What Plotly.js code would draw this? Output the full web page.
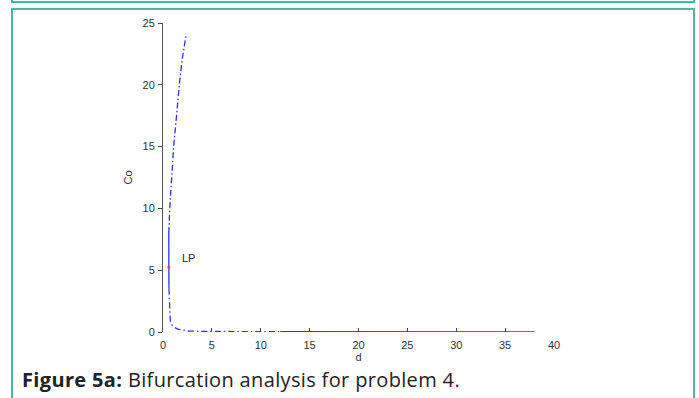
<!DOCTYPE html>
<html>
<head>
<meta charset="utf-8">
<script src="https://cdn.plot.ly/plotly-3.0.1.min.js"></script>
<style>
  html, body { margin: 0; padding: 0; background: #fff; }
  #wrap { position: relative; width: 699px; height: 398px; overflow: hidden; }
  #plot { position: absolute; left: 0; top: 0; width: 699px; height: 398px; }
  .bx { position: absolute; border: 2px solid #45bb9f; }
  #caption { position: absolute; left: 22px; top: 366px; font-family: "Open Sans", "Noto Sans", sans-serif;
             font-size: 20px; color: #222; white-space: nowrap; letter-spacing: 0.35px; }
</style>
</head>
<body>
<div id="wrap">
  <div class="bx" style="left:11px; top:-10px; width:680px; height:9px;"></div>
  <div class="bx" style="left:11px; top:8px; width:680px; height:400px;"></div>
  <div id="plot"></div>
  <div id="caption"><b>Figure 5a:</b> Bifurcation analysis for problem 4.</div>
</div>
<script>
// Upper branch above the limit point (dash-dot)
const dUpper  = [0.59, 0.62, 0.69, 0.78, 0.87, 0.98, 1.10, 1.27, 1.45, 1.68, 1.95, 2.15, 2.36];
const coUpper = [8.0, 9.0, 10.0, 11.2, 12.4, 13.8, 15.1, 16.5, 18.2, 20.1, 22.0, 23.0, 24.0];
// Segment around the limit point (solid)
const dNear   = [0.59, 0.585, 0.59, 0.61];
const coNear  = [8.0, 6.5, 5.26, 3.5];
// Lower branch (dash-dot)
const dLower  = [0.61, 0.66, 0.75, 0.94, 1.2, 1.58, 2.0, 2.6, 4, 6, 8, 10, 12];
const coLower = [3.5, 1.5, 0.9, 0.54, 0.35, 0.22, 0.14, 0.08, 0.05, 0.04, 0.03, 0.03, 0.02];
// Tail (solid)
const dTail   = [12, 20, 30, 38];
const coTail  = [0.02, 0.02, 0.015, 0.01];
// Limit point
const dLP  = [0.59];
const coLP = [5.26];
const xTicks = [0, 5, 10, 15, 20, 25, 30, 35, 40];
const yTicks = [0, 5, 10, 15, 20, 25];

const blue = 'rgb(45,45,255)';
const traces = [
  {x: dUpper, y: coUpper, mode: 'lines', line: {color: blue, width: 1.3, dash: '6px,2.5px,1.5px,2.5px'}},
  {x: dNear, y: coNear, mode: 'lines', line: {color: blue, width: 1.3}},
  {x: dLower, y: coLower, mode: 'lines', line: {color: blue, width: 1.3, dash: '6px,3px,1.5px,3px'}},
  {x: dTail, y: coTail, mode: 'lines', line: {color: blue, width: 1.3}},
  {x: dLP, y: coLP, mode: 'markers', marker: {color: 'rgb(255,60,60)', size: 3}}
];

const layout = {
  width: 699, height: 398,
  margin: {l: 162.5, r: 144.5, t: 23, b: 66.3},
  paper_bgcolor: 'rgba(0,0,0,0)', plot_bgcolor: 'rgba(0,0,0,0)',
  showlegend: false,
  font: {family: '"Liberation Sans", Arial, sans-serif', size: 11, color: '#333'},
  xaxis: {
    range: [0, 40], tickvals: xTicks, ticktext: xTicks.map(String),
    showline: false, showgrid: false, zeroline: false,
    ticks: 'inside', ticklen: 4, tickcolor: '#444', tickwidth: 1,
    ticklabelstandoff: 5,
    tickfont: {size: 11, color: '#333'},
    title: {text: 'd', font: {size: 11, color: '#333'}, standoff: 0}
  },
  yaxis: {
    range: [0, 25], tickvals: yTicks, ticktext: yTicks.map(String),
    showline: true, linecolor: '#555', linewidth: 1,
    showgrid: false, zeroline: false,
    ticks: 'outside', ticklen: 4, tickcolor: '#444', tickwidth: 1,
    ticklabelstandoff: 1,
    tickfont: {size: 11, color: '#333'},
    title: {text: 'Co', font: {size: 11, color: '#333'}, standoff: 7}
  },
  annotations: [
    {x: 1.7, y: 6.0, xref: 'x', yref: 'y', text: 'LP', showarrow: false,
     xanchor: 'left', yanchor: 'middle', font: {size: 11, color: '#222'}}
  ]
};

Plotly.newPlot('plot', traces, layout, {displayModeBar: false, staticPlot: true});
</script>
</body>
</html>
